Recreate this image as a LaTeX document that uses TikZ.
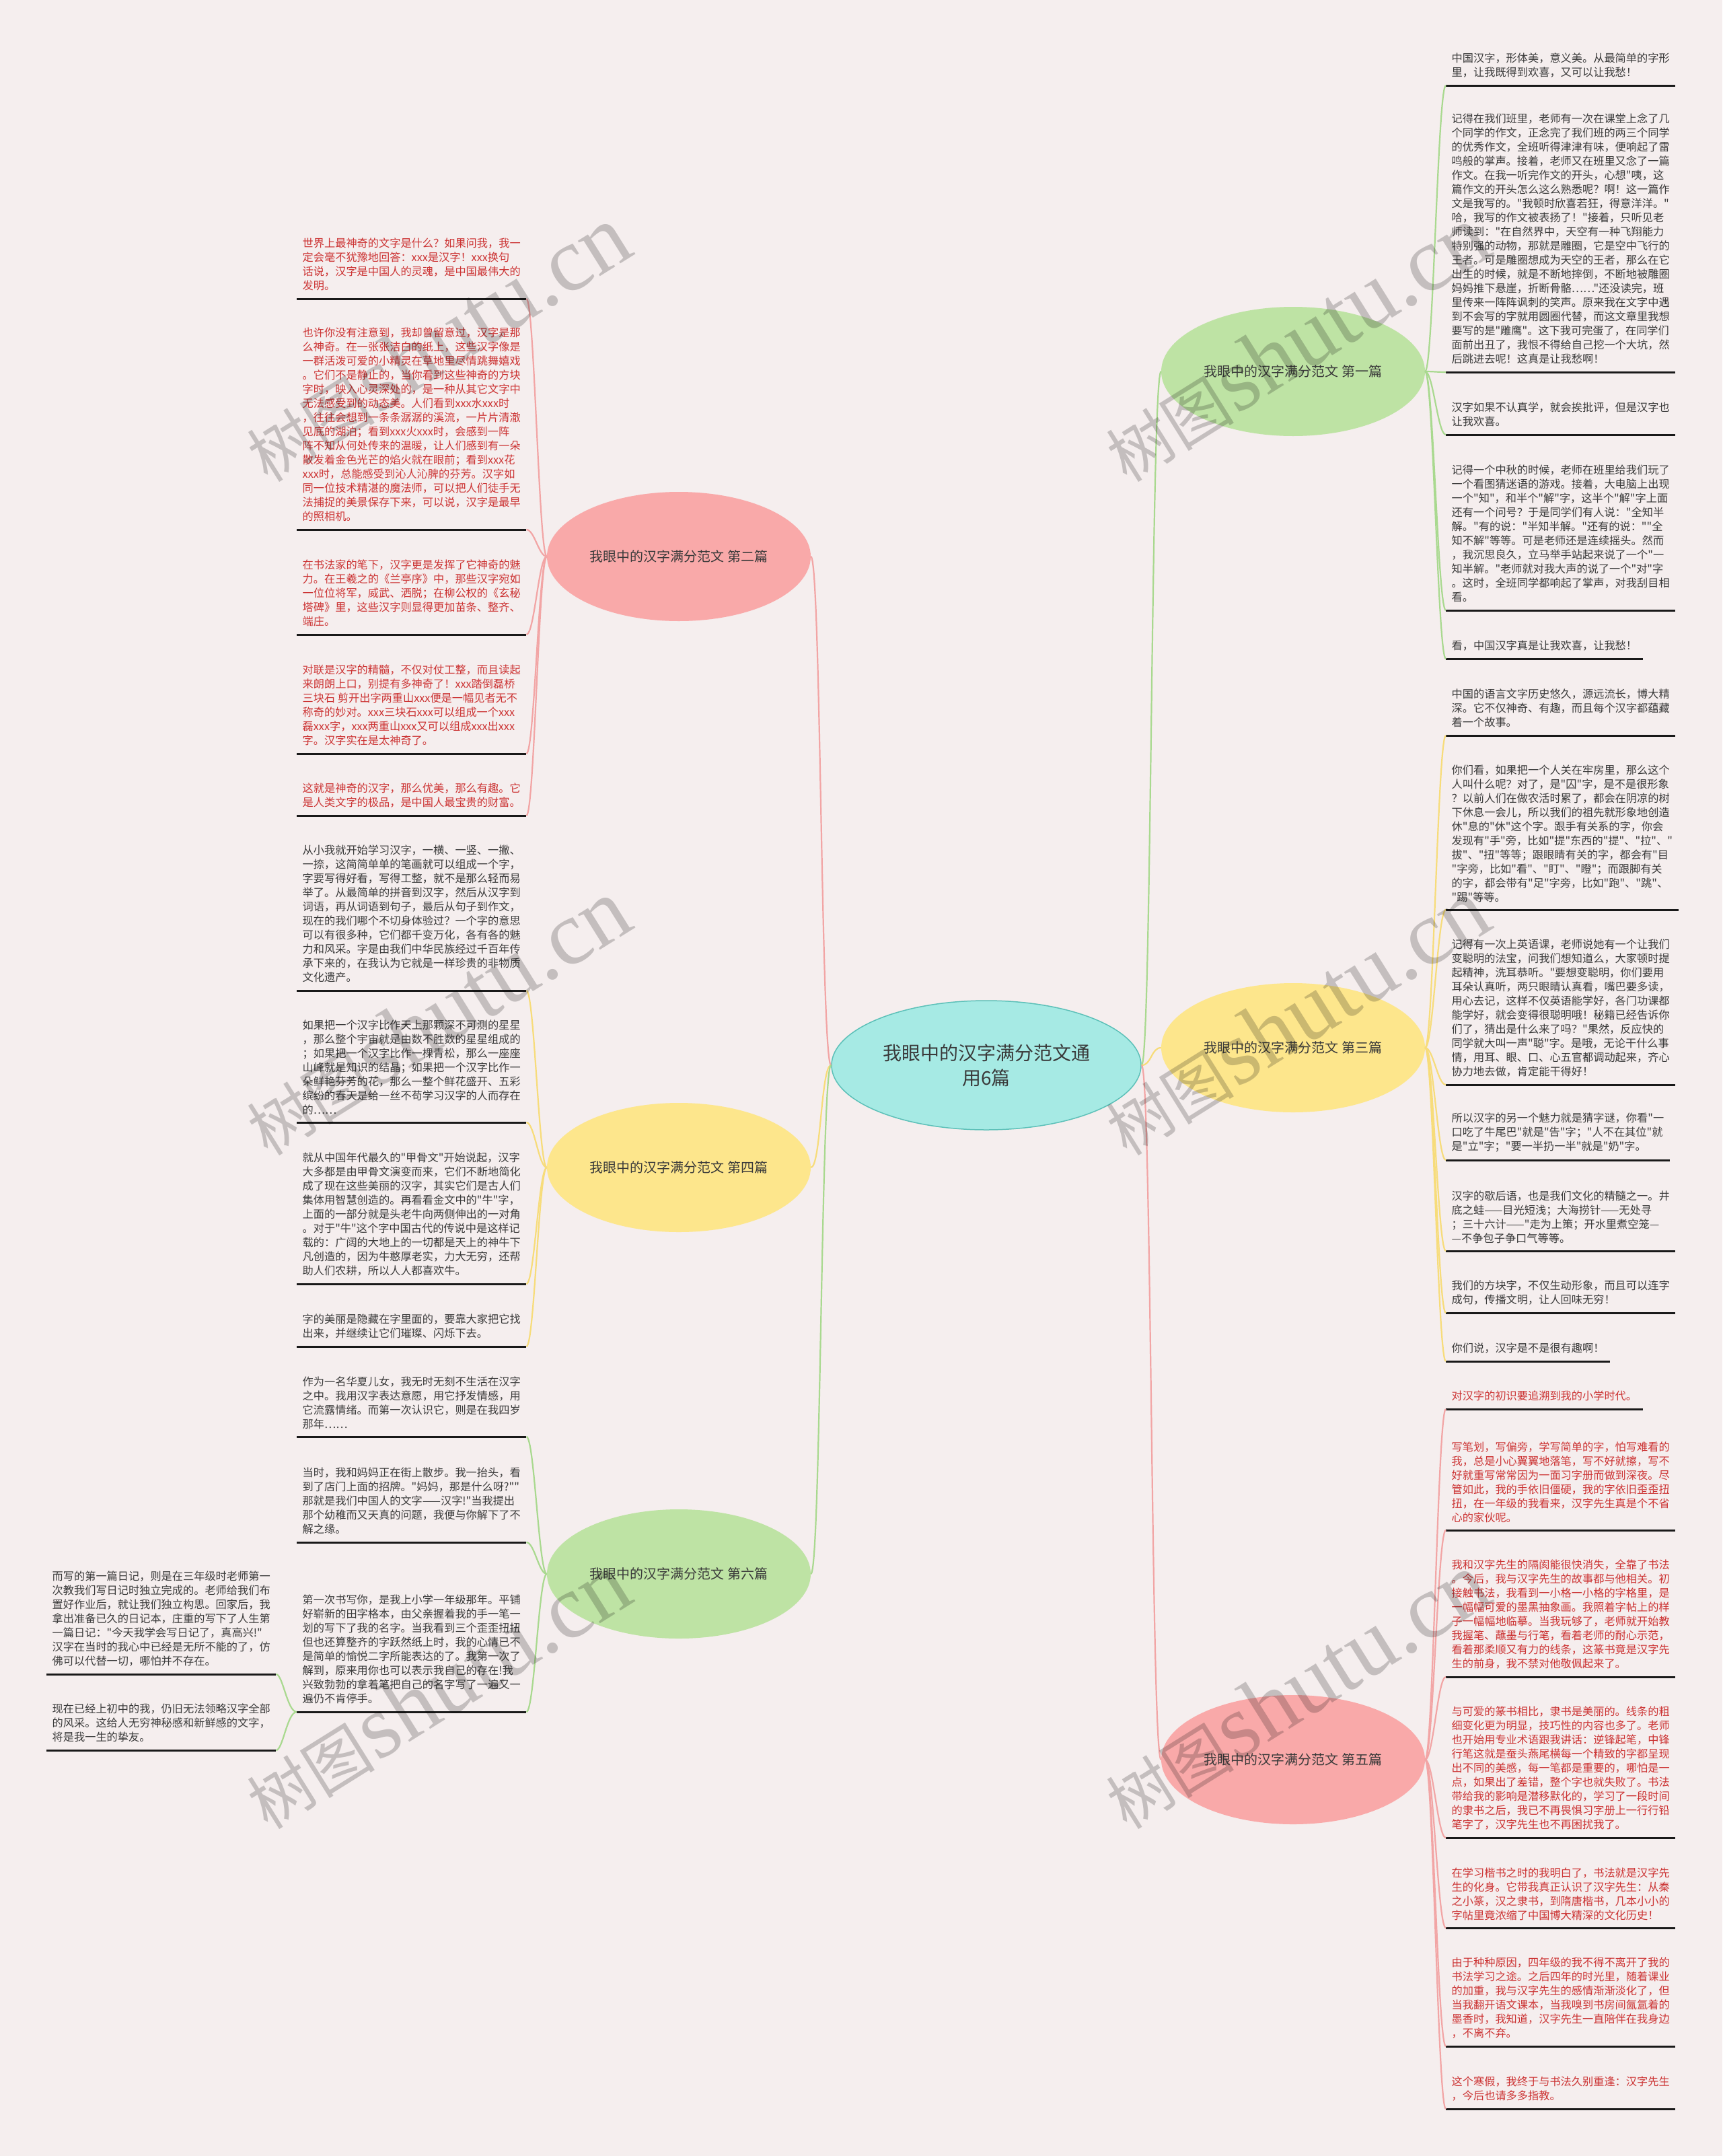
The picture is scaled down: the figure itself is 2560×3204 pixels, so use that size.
\documentclass[tikz,border=0pt]{standalone}
\usepackage{fontspec}
\setmainfont{Noto Sans CJK SC}[Ligatures=TeXOff]
\newfontfamily\wmlat{Liberation Serif}
\usetikzlibrary{shapes.geometric}
\definecolor{bg}{HTML}{F5EEEE}
\definecolor{redtxt}{HTML}{CC3333}
\definecolor{darktxt}{HTML}{3A3A3A}
\definecolor{pinkline}{HTML}{F2A5A5}
\definecolor{yelline}{HTML}{F7DC7A}
\definecolor{grnline}{HTML}{A9D98F}
\definecolor{pinkfill}{HTML}{F9A9A9}
\definecolor{yelfill}{HTML}{FDE68C}
\definecolor{grnfill}{HTML}{BEE3A4}
\definecolor{cyanfill}{HTML}{A6EAE4}
\definecolor{cyanline}{HTML}{5CC0B8}
\tikzset{
 leaf/.style={anchor=south west, inner sep=0pt, align=left, font=\fontsize{16.2}{21}\selectfont},
 redleaf/.style={leaf, text=redtxt},
 darkleaf/.style={leaf, text=darktxt},
 uline/.style={line width=3pt, draw=black!90},
 branch/.style={ellipse, minimum width=392pt, minimum height=192pt, font=\fontsize{20}{24}\selectfont, text=darktxt, inner sep=0pt},
 conn/.style={line width=2.2pt},
 wm/.style={rotate=32, opacity=0.2, inner sep=0pt},
}
\newcommand\mkleaf[5]{%
  \node[#2] (#1) at (#3,#4-11.5) {#5};
  \draw[uline] ([xshift=-8.5pt,yshift=-11.5pt]#1.south west) coordinate (#1-l) -- ([xshift=8.5pt,yshift=-11.5pt]#1.south east) coordinate (#1-r);
}
\newcommand\lconn[3]{\draw[conn,#1] (#2.west) .. controls +(-12,0) and +(12,0) .. (#3-r);}
\newcommand\rconn[3]{\draw[conn,#1] (#2.east) .. controls +(12,0) and +(-12,0) .. (#3-l);}
\newcommand\wmark[2]{\node[wm] (#1) at (#2) {{\fontsize{95}{95}\selectfont 树图} {\wmlat\fontsize{135}{135}\selectfont shutu.cn}};}
\begin{document}
\begin{tikzpicture}[x=1pt,y=-1pt]
\fill[bg] (0,0) rectangle (2560,3204);
\useasboundingbox (0,0) rectangle (2560,3204);

% central and branch nodes
\node[ellipse, fill=cyanfill, draw=cyanline, line width=1.5pt, minimum width=460pt, minimum height=192pt, align=center, text=darktxt, font=\fontsize{28}{37}\selectfont] (c) at (1466,1583) {我眼中的汉字满分范文通\\用6篇};
\node[branch, fill=pinkfill] (b2) at (1009,827) {我眼中的汉字满分范文 第二篇};
\node[branch, fill=yelfill] (b4) at (1009,1735) {我眼中的汉字满分范文 第四篇};
\node[branch, fill=grnfill] (b6) at (1009,2339) {我眼中的汉字满分范文 第六篇};
\node[branch, fill=grnfill] (b1) at (1922,552) {我眼中的汉字满分范文 第一篇};
\node[branch, fill=yelfill] (b3) at (1922,1557) {我眼中的汉字满分范文 第三篇};
\node[branch, fill=pinkfill] (b5) at (1922,2615) {我眼中的汉字满分范文 第五篇};

\draw[conn,pinkline] (c.west) .. controls +(-15,0) and +(15,0) .. (b2.east);
\draw[conn,yelline] (c.west) .. controls +(-15,0) and +(15,0) .. (b4.east);
\draw[conn,grnline] (c.west) .. controls +(-15,0) and +(15,0) .. (b6.east);
\draw[conn,grnline] (c.east) .. controls +(15,0) and +(-15,0) .. (b1.west);
\draw[conn,yelline] (c.east) .. controls +(15,0) and +(-15,0) .. (b3.west);
\draw[conn,pinkline] (c.east) .. controls +(15,0) and +(-15,0) .. (b5.west);

% ---------- 第二篇 ----------
\mkleaf{la}{redleaf}{449.5}{444}{世界上最神奇的文字是什么？如果问我，我一\\定会毫不犹豫地回答：xxx是汉字！xxx换句\\话说，汉字是中国人的灵魂，是中国最伟大的\\发明。}
\mkleaf{lb}{redleaf}{449.5}{787}{也许你没有注意到，我却曾留意过，汉字是那\\么神奇。在一张张洁白的纸上，这些汉字像是\\一群活泼可爱的小精灵在草地里尽情跳舞嬉戏\\。它们不是静止的，当你看到这些神奇的方块\\字时，映入心灵深处的，是一种从其它文字中\\无法感受到的动态美。人们看到xxx水xxx时\\，往往会想到一条条潺潺的溪流，一片片清澈\\见底的湖泊；看到xxx火xxx时，会感到一阵\\阵不知从何处传来的温暖，让人们感到有一朵\\散发着金色光芒的焰火就在眼前；看到xxx花\\xxx时，总能感受到沁人沁脾的芬芳。汉字如\\同一位技术精湛的魔法师，可以把人们徒手无\\法捕捉的美景保存下来，可以说，汉字是最早\\的照相机。}
\mkleaf{lc}{redleaf}{449.5}{943}{在书法家的笔下，汉字更是发挥了它神奇的魅\\力。在王羲之的《兰亭序》中，那些汉字宛如\\一位位将军，威武、洒脱；在柳公权的《玄秘\\塔碑》里，这些汉字则显得更加苗条、整齐、\\端庄。}
\mkleaf{ld}{redleaf}{449.5}{1120}{对联是汉字的精髓，不仅对仗工整，而且读起\\来朗朗上口，别提有多神奇了！xxx踏倒磊桥\\三块石 剪开出字两重山xxx便是一幅见者无不\\称奇的妙对。xxx三块石xxx可以组成一个xxx\\磊xxx字，xxx两重山xxx又可以组成xxx出xxx\\字。汉字实在是太神奇了。}
\mkleaf{le}{redleaf}{449.5}{1212}{这就是神奇的汉字，那么优美，那么有趣。它\\是人类文字的极品，是中国人最宝贵的财富。}
\lconn{pinkline}{b2}{la}\lconn{pinkline}{b2}{lb}\lconn{pinkline}{b2}{lc}\lconn{pinkline}{b2}{ld}\lconn{pinkline}{b2}{le}

% ---------- 第四篇 ----------
\mkleaf{lf}{darkleaf}{449.5}{1472}{从小我就开始学习汉字，一横、一竖、一撇、\\一捺，这简简单单的笔画就可以组成一个字，\\字要写得好看，写得工整，就不是那么轻而易\\举了。从最简单的拼音到汉字，然后从汉字到\\词语，再从词语到句子，最后从句子到作文，\\现在的我们哪个不切身体验过？一个字的意思\\可以有很多种，它们都千变万化，各有各的魅\\力和风采。字是由我们中华民族经过千百年传\\承下来的，在我认为它就是一样珍贵的非物质\\文化遗产。}
\mkleaf{lg}{darkleaf}{449.5}{1668}{如果把一个汉字比作天上那颗深不可测的星星\\，那么整个宇宙就是由数不胜数的星星组成的\\；如果把一个汉字比作一棵青松，那么一座座\\山峰就是知识的结晶；如果把一个汉字比作一\\朵鲜艳芬芳的花，那么一整个鲜花盛开、五彩\\缤纷的春天是给一丝不苟学习汉字的人而存在\\的……}
\mkleaf{lh}{darkleaf}{449.5}{1908}{就从中国年代最久的"甲骨文"开始说起，汉字\\大多都是由甲骨文演变而来，它们不断地简化\\成了现在这些美丽的汉字，其实它们是古人们\\集体用智慧创造的。再看看金文中的"牛"字，\\上面的一部分就是头老牛向两侧伸出的一对角\\。对于"牛"这个字中国古代的传说中是这样记\\载的：广阔的大地上的一切都是天上的神牛下\\凡创造的，因为牛憨厚老实，力大无穷，还帮\\助人们农耕，所以人人都喜欢牛。}
\mkleaf{li}{darkleaf}{449.5}{2001}{字的美丽是隐藏在字里面的，要靠大家把它找\\出来，并继续让它们璀璨、闪烁下去。}
\lconn{yelline}{b4}{lf}\lconn{yelline}{b4}{lg}\lconn{yelline}{b4}{lh}\lconn{yelline}{b4}{li}

% ---------- 第六篇 ----------
\mkleaf{lj}{darkleaf}{449.5}{2135}{作为一名华夏儿女，我无时无刻不生活在汉字\\之中。我用汉字表达意愿，用它抒发情感，用\\它流露情绪。而第一次认识它，则是在我四岁\\那年……}
\mkleaf{lk}{darkleaf}{449.5}{2292}{当时，我和妈妈正在街上散步。我一抬头，看\\到了店门上面的招牌。"妈妈，那是什么呀?""\\那就是我们中国人的文字——汉字!"当我提出\\那个幼稚而又天真的问题，我便与你解下了不\\解之缘。}
\mkleaf{lm}{darkleaf}{449.5}{2544}{第一次书写你，是我上小学一年级那年。平铺\\好崭新的田字格本，由父亲握着我的手一笔一\\划的写下了我的名字。当我看到三个歪歪扭扭\\但也还算整齐的字跃然纸上时，我的心情已不\\是简单的愉悦二字所能表达的了。我第一次了\\解到，原来用你也可以表示我自己的存在!我\\兴致勃勃的拿着笔把自己的名字写了一遍又一\\遍仍不肯停手。}
\lconn{grnline}{b6}{lj}\lconn{grnline}{b6}{lk}\lconn{grnline}{b6}{lm}
\mkleaf{fa}{darkleaf}{77.5}{2488}{而写的第一篇日记，则是在三年级时老师第一\\次教我们写日记时独立完成的。老师给我们布\\置好作业后，就让我们独立构思。回家后，我\\拿出准备已久的日记本，庄重的写下了人生第\\一篇日记："今天我学会写日记了，真高兴!"\\汉字在当时的我心中已经是无所不能的了，仿\\佛可以代替一切，哪怕并不存在。}
\mkleaf{fb}{darkleaf}{77.5}{2601}{现在已经上初中的我，仍旧无法领略汉字全部\\的风采。这给人无穷神秘感和新鲜感的文字，\\将是我一生的挚友。}
\draw[conn,grnline] (lm-l) .. controls +(-14,0) and +(10,0) .. (fa-r);
\draw[conn,grnline] (lm-l) .. controls +(-14,0) and +(10,0) .. (fb-r);

% ---------- 第一篇 ----------
\mkleaf{ra}{darkleaf}{2157.5}{127}{中国汉字，形体美，意义美。从最简单的字形\\里，让我既得到欢喜，又可以让我愁！}
\mkleaf{rb}{darkleaf}{2157.5}{553}{记得在我们班里，老师有一次在课堂上念了几\\个同学的作文，正念完了我们班的两三个同学\\的优秀作文，全班听得津津有味，便响起了雷\\鸣般的掌声。接着，老师又在班里又念了一篇\\作文。在我一听完作文的开头，心想"咦，这\\篇作文的开头怎么这么熟悉呢？啊！这一篇作\\文是我写的。"我顿时欣喜若狂，得意洋洋。"\\哈，我写的作文被表扬了！"接着，只听见老\\师读到："在自然界中，天空有一种飞翔能力\\特别强的动物，那就是雕圈，它是空中飞行的\\王者。可是雕圈想成为天空的王者，那么在它\\出生的时候，就是不断地摔倒，不断地被雕圈\\妈妈推下悬崖，折断骨骼……"还没读完，班\\里传来一阵阵讽刺的笑声。原来我在文字中遇\\到不会写的字就用圆圈代替，而这文章里我想\\要写的是"雕鹰"。这下我可完蛋了，在同学们\\面前出丑了，我恨不得给自己挖一个大坑，然\\后跳进去呢！这真是让我愁啊！}
\mkleaf{rc}{darkleaf}{2157.5}{646}{汉字如果不认真学，就会挨批评，但是汉字也\\让我欢喜。}
\mkleaf{rd}{darkleaf}{2157.5}{907}{记得一个中秋的时候，老师在班里给我们玩了\\一个看图猜迷语的游戏。接着，大电脑上出现\\一个"知"，和半个"解"字，这半个"解"字上面\\还有一个问号？于是同学们有人说："全知半\\解。"有的说："半知半解。"还有的说：""全\\知不解"等等。可是老师还是连续摇头。然而\\，我沉思良久，立马举手站起来说了一个"一\\知半解。"老师就对我大声的说了一个"对"字\\。这时，全班同学都响起了掌声，对我刮目相\\看。}
\mkleaf{re}{darkleaf}{2157.5}{979}{看，中国汉字真是让我欢喜，让我愁！}
\rconn{grnline}{b1}{ra}\rconn{grnline}{b1}{rb}\rconn{grnline}{b1}{rc}\rconn{grnline}{b1}{rd}\rconn{grnline}{b1}{re}

% ---------- 第三篇 ----------
\mkleaf{rf}{darkleaf}{2157.5}{1093}{中国的语言文字历史悠久，源远流长，博大精\\深。它不仅神奇、有趣，而且每个汉字都蕴藏\\着一个故事。}
\mkleaf{rg}{darkleaf}{2157.5}{1352}{你们看，如果把一个人关在牢房里，那么这个\\人叫什么呢？对了，是"囚"字，是不是很形象\\？以前人们在做农活时累了，都会在阴凉的树\\下休息一会儿，所以我们的祖先就形象地创造\\休"息的"休"这个字。跟手有关系的字，你会\\发现有"手"旁，比如"提"东西的"提"、"拉"、"\\拔"、"扭"等等；跟眼睛有关的字，都会有"目\\"字旁，比如"看"、"盯"、"瞪"；而跟脚有关\\的字，都会带有"足"字旁，比如"跑"、"跳"、\\"踢"等等。}
\mkleaf{rh}{darkleaf}{2157.5}{1612}{记得有一次上英语课，老师说她有一个让我们\\变聪明的法宝，问我们想知道么，大家顿时提\\起精神，洗耳恭听。"要想变聪明，你们要用\\耳朵认真听，两只眼睛认真看，嘴巴要多读，\\用心去记，这样不仅英语能学好，各门功课都\\能学好，就会变得很聪明哦！秘籍已经告诉你\\们了，猜出是什么来了吗？"果然，反应快的\\同学就大叫一声"聪"字。是哦，无论干什么事\\情，用耳、眼、口、心五官都调动起来，齐心\\协力地去做，肯定能干得好！}
\mkleaf{ri}{darkleaf}{2157.5}{1724}{所以汉字的另一个魅力就是猜字谜，你看"一\\口吃了牛尾巴"就是"告"字；"人不在其位"就\\是"立"字；"要一半扔一半"就是"奶"字。}
\mkleaf{rj}{darkleaf}{2157.5}{1859}{汉字的歇后语，也是我们文化的精髓之一。井\\底之蛙——目光短浅；大海捞针——无处寻\\；三十六计——"走为上策；开水里煮空笼—\\—不争包子争口气等等。}
\mkleaf{rk}{darkleaf}{2157.5}{1951}{我们的方块字，不仅生动形象，而且可以连字\\成句，传播文明，让人回味无穷！}
\mkleaf{rm}{darkleaf}{2157.5}{2023}{你们说，汉字是不是很有趣啊！}
\rconn{yelline}{b3}{rf}\rconn{yelline}{b3}{rg}\rconn{yelline}{b3}{rh}\rconn{yelline}{b3}{ri}\rconn{yelline}{b3}{rj}\rconn{yelline}{b3}{rk}\rconn{yelline}{b3}{rm}

% ---------- 第五篇 ----------
\mkleaf{rn}{redleaf}{2157.5}{2094}{对汉字的初识要追溯到我的小学时代。}
\mkleaf{ro}{redleaf}{2157.5}{2274}{写笔划，写偏旁，学写简单的字，怕写难看的\\我，总是小心翼翼地落笔，写不好就擦，写不\\好就重写常常因为一面习字册而做到深夜。尽\\管如此，我的手依旧僵硬，我的字依旧歪歪扭\\扭，在一年级的我看来，汉字先生真是个不省\\心的家伙呢。}
\mkleaf{rp}{redleaf}{2157.5}{2492}{我和汉字先生的隔阂能很快消失，全靠了书法\\。今后，我与汉字先生的故事都与他相关。初\\接触书法，我看到一小格一小格的字格里，是\\一幅幅可爱的墨黑抽象画。我照着字帖上的样\\子一幅幅地临摹。当我玩够了，老师就开始教\\我握笔、蘸墨与行笔，看着老师的耐心示范，\\看着那柔顺又有力的线条，这篆书竟是汉字先\\生的前身，我不禁对他敬佩起来了。}
\mkleaf{rq}{redleaf}{2157.5}{2731}{与可爱的篆书相比，隶书是美丽的。线条的粗\\细变化更为明显，技巧性的内容也多了。老师\\也开始用专业术语跟我讲话：逆锋起笔，中锋\\行笔这就是蚕头燕尾横每一个精致的字都呈现\\出不同的美感，每一笔都是重要的，哪怕是一\\点，如果出了差错，整个字也就失败了。书法\\带给我的影响是潜移默化的，学习了一段时间\\的隶书之后，我已不再畏惧习字册上一行行铅\\笔字了，汉字先生也不再困扰我了。}
\mkleaf{rr}{redleaf}{2157.5}{2865}{在学习楷书之时的我明白了，书法就是汉字先\\生的化身。它带我真正认识了汉字先生：从秦\\之小篆，汉之隶书，到隋唐楷书，几本小小的\\字帖里竟浓缩了中国博大精深的文化历史！}
\mkleaf{rs}{redleaf}{2157.5}{3041}{由于种种原因，四年级的我不得不离开了我的\\书法学习之途。之后四年的时光里，随着课业\\的加重，我与汉字先生的感情渐渐淡化了，但\\当我翻开语文课本，当我嗅到书房间氤氲着的\\墨香时，我知道，汉字先生一直陪伴在我身边\\，不离不弃。}
\mkleaf{rt}{redleaf}{2157.5}{3134}{这个寒假，我终于与书法久别重逢：汉字先生\\，今后也请多多指教。}
\rconn{pinkline}{b5}{rn}\rconn{pinkline}{b5}{ro}\rconn{pinkline}{b5}{rp}\rconn{pinkline}{b5}{rq}\rconn{pinkline}{b5}{rr}\rconn{pinkline}{b5}{rs}\rconn{pinkline}{b5}{rt}

% ---------- watermarks ----------
\wmark{w1}{650,511}
\wmark{w2}{650,1512}
\wmark{w3}{650,2513}
\wmark{w4}{1927,511}
\wmark{w5}{1927,1512}
\wmark{w6}{1927,2513}
\end{tikzpicture}
\end{document}
